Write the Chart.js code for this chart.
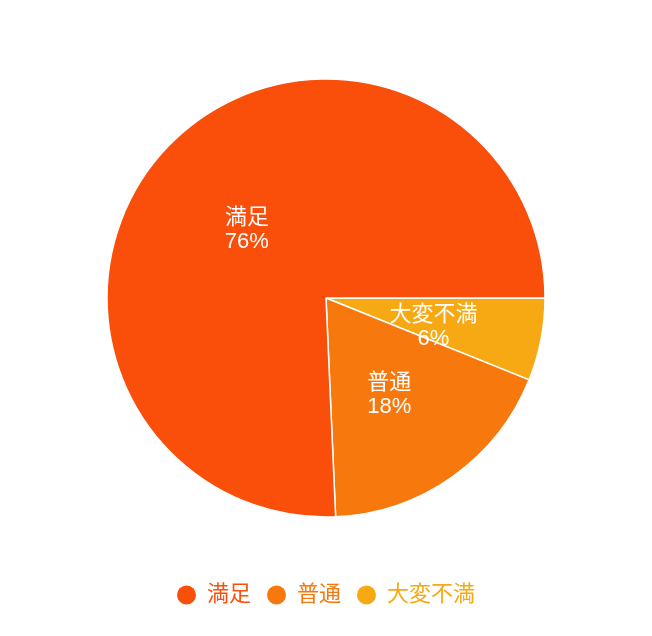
<!DOCTYPE html>
<html>
<head>
<meta charset="utf-8">
<script src="https://cdn.jsdelivr.net/npm/chart.js@4"></script>
<style>
  html, body { margin: 0; padding: 0; background: #fff; }
  #wrap { width: 652px; height: 636px; }
</style>
</head>
<body>
<div id="wrap"><canvas id="pieChart" width="652" height="636"></canvas></div>
<script>
// データ (凡例の順)
const categories = ['満足', '普通', '大変不満'];
const values = [75.7, 18.2, 6.1];
const colors = ['#FA4F0B', '#F7790E', '#F7A913'];

const FONT = "'Liberation Sans', Arial, 'Noto Sans CJK JP', sans-serif";

// 時計回りに 3時の位置から 大変不満 → 普通 → 満足 と並ぶので逆順で渡す
const order = categories.map((_, i) => i).reverse();

// スライス内のラベル
const sliceLabels = {
    id: 'sliceLabels',
    afterDatasetsDraw(chart) {
        const ctx = chart.ctx;
        const meta = chart.getDatasetMeta(0);
        const data = chart.data.datasets[0].data;
        const total = data.reduce((a, b) => a + b, 0);
        ctx.save();
        ctx.fillStyle = '#ffffff';
        ctx.font = '22px ' + FONT;
        ctx.textAlign = 'center';
        ctx.textBaseline = 'middle';
        meta.data.forEach((arc, i) => {
            const p = arc.getCenterPoint();
            const pct = Math.round(data[i] / total * 100) + '%';
            ctx.fillText(chart.data.labels[i], p.x, p.y - 4);
            ctx.fillText(pct, p.x, p.y + 20);
        });
        ctx.restore();
    }
};

new Chart(document.getElementById('pieChart').getContext('2d'), {
    type: 'pie',
    data: {
        labels: order.map((i) => categories[i]),
        datasets: [{
            data: order.map((i) => values[i]),
            backgroundColor: order.map((i) => colors[i]),
            borderColor: '#ffffff',
            borderWidth: 1.5
        }]
    },
    options: {
        responsive: false,
        animation: false,
        rotation: 90,
        radius: 219,
        layout: { padding: { top: 28, bottom: 20 } },
        events: [],
        plugins: {
            tooltip: { enabled: false },
            legend: {
                display: true,
                position: 'bottom',
                labels: {
                    usePointStyle: true,
                    pointStyleWidth: 19,
                    boxHeight: 13.5,
                    padding: 16,
                    font: { size: 22, family: FONT },
                    generateLabels() {
                        return categories.map((c, i) => ({
                            text: c,
                            fillStyle: colors[i],
                            strokeStyle: colors[i],
                            fontColor: colors[i],
                            lineWidth: 0,
                            pointStyle: 'circle',
                            hidden: false,
                            index: i
                        }));
                    }
                }
            }
        }
    },
    plugins: [sliceLabels]
});
</script>
</body>
</html>
